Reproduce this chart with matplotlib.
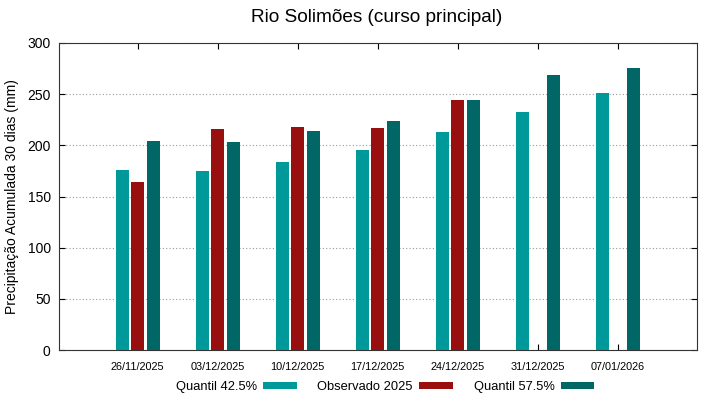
import matplotlib
matplotlib.use('Agg')
import matplotlib.pyplot as plt
import matplotlib.transforms as mtrans
import numpy as np

plt.rcParams['font.family'] = ['Liberation Sans', 'DejaVu Sans']

datas = ['26/11/2025', '03/12/2025', '10/12/2025', '17/12/2025',
         '24/12/2025', '31/12/2025', '07/01/2026']
q425 = [176, 175, 184, 195.5, 213, 232.5, 251]
obs2025 = [164, 215.5, 218, 216.5, 244.5, np.nan, np.nan]
q575 = [204, 203, 214, 223.5, 244.5, 268.5, 276]

c_q425 = '#009999'
c_obs = '#990f0f'
c_q575 = '#006666'

x = np.arange(len(datas))
w = 0.165
off = 0.195

fig = plt.figure(figsize=(7.19, 3.99), dpi=100)
ax = fig.add_axes([59/719, 1 - 350/399, 638/719, 307/399])

ax.bar(x - off, q425, w, color=c_q425, label='Quantil 42.5%', zorder=3)
ax.bar(x, obs2025, w, color=c_obs, label='Observado 2025', zorder=3)
ax.bar(x + off, q575, w, color=c_q575, label='Quantil 57.5%', zorder=3)

ax.set_xlim(-0.985, 6.99)
ax.set_ylim(0, 300)
ax.set_yticks(range(0, 301, 50))
ax.set_xticks(x)
ax.set_xticklabels(datas, fontsize=7.8)
# labels sit a bit right of the ticks
shift = mtrans.ScaledTranslation(6/100, 0, fig.dpi_scale_trans)
for lab in ax.get_xticklabels():
    lab.set_transform(lab.get_transform() + shift)

ax.tick_params(axis='y', labelsize=10, direction='in', length=4, right=True, pad=6)
ax.tick_params(axis='x', direction='in', length=4, top=True, pad=9)
ax.yaxis.grid(True, linestyle=(0, (1, 2)), color='#999999', linewidth=0.8, zorder=0)

ax.set_ylabel('Precipitação Acumulada 30 dias (mm)', fontsize=10, labelpad=6)
for s in ax.spines.values():
    s.set_linewidth(0.8)
    s.set_color('#333333')

fig.text(377/719, 1 - 17/399, 'Rio Solimões (curso principal)', fontsize=13.7,
         ha='center', va='center')

leg = ax.legend(loc='center', bbox_to_anchor=(385/719, 1 - 387/399),
                bbox_transform=fig.transFigure, ncol=3, frameon=False,
                markerfirst=False, fontsize=9.3, handlelength=2.6, handleheight=0.55,
                handletextpad=0.5, columnspacing=1.6)

fig.savefig('out.png', dpi=100)
